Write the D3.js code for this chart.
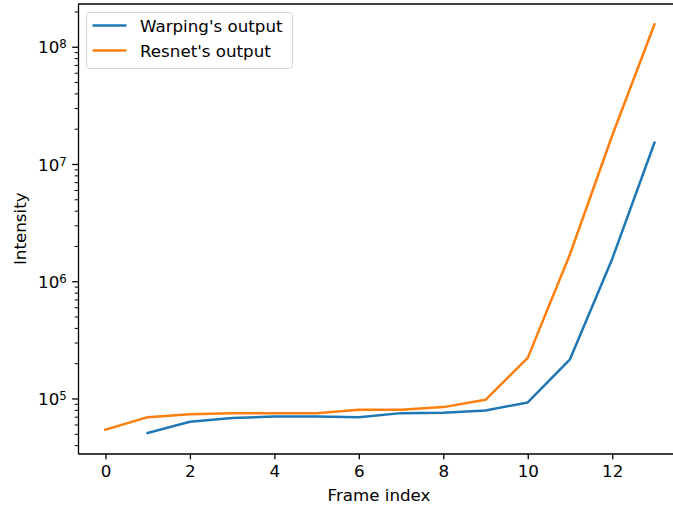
<!DOCTYPE html>
<meta charset="utf-8">
<title>Intensity per frame</title>
<head>
    <script src="https://cdn.jsdelivr.net/npm/d3@7"></script>
</head>
<body style="margin: 0px">
<script>

    // values (log y axis)
    var frames = [0, 1, 2, 3, 4, 5, 6, 7, 8, 9, 10, 11, 12, 13];
    var warping = [null, 50700, 63400, 68100, 70300, 70300, 69300, 75000, 75500, 79100, 92500, 216000, 1550000, 15200000];
    var resnet = [54200, 69300, 73200, 75000, 75000, 75000, 80200, 80200, 84400, 97500, 222000, 1700000, 17500000, 155000000];
    var seriesNames = ["Warping's output", "Resnet's output"];
    var seriesColors = ["#1f77b4", "#ff7f0e"];
    var xTicks = [0, 2, 4, 6, 8, 10, 12];
    var yDecades = [5, 6, 7, 8];

    var width = 673,
            height = 511,
            plotLeft = 78, plotTop = 4, plotBottom = 453.5,
            pxPerFrame = 42.23;

    var fontFamily = "'DejaVu Sans', sans-serif",
            fontSize = "16.7px";

    var svg = d3.select("body").append("svg")
            .attr("width", width)
            .attr("height", height)
            .style("display", "block")
            .style("font-family", fontFamily);

    // matplotlib style 5% margins, x on linear, y in log space
    var xMin = d3.min(frames), xMax = d3.max(frames),
            xPad = (xMax - xMin) * 0.05;
    var x = d3.scaleLinear()
            .domain([xMin - xPad, xMax + xPad])
            .range([plotLeft, plotLeft + (xMax - xMin + 2 * xPad) * pxPerFrame]);

    var allValues = warping.concat(resnet).filter(function (d) { return d != null; });
    var lMin = Math.log10(d3.min(allValues)), lMax = Math.log10(d3.max(allValues)),
            lPad = (lMax - lMin) * 0.05;
    var y = d3.scaleLog()
            .domain([Math.pow(10, lMin - lPad), Math.pow(10, lMax + lPad)])
            .range([plotBottom, plotTop]);

    var minorTicks = [];
    for (var e = 4; e <= 8; e++) {
        for (var m = 2; m <= 9; m++) {
            var v = m * Math.pow(10, e);
            if (v >= y.domain()[0] && v <= y.domain()[1]) minorTicks.push(v);
        }
    }

    // lines
    var series = [warping, resnet];
    var line = d3.line()
            .defined(function (d) { return d[1] != null; })
            .x(function (d) { return x(d[0]); })
            .y(function (d) { return y(d[1]); });

    svg.append("g").selectAll("path")
            .data(series)
            .enter().append("path")
            .attr("fill", "none")
            .attr("stroke", function (d, i) { return seriesColors[i]; })
            .attr("stroke-width", 2.5)
            .attr("stroke-linejoin", "round")
            .attr("stroke-linecap", "square")
            .attr("d", function (d) {
                return line(d.map(function (v, i) { return [frames[i], v]; }));
            });

    // x axis
    var gx = svg.append("g")
            .attr("transform", "translate(0," + plotBottom + ")")
            .call(d3.axisBottom(x).tickValues(xTicks).tickSize(5.8).tickPadding(5.8).tickSizeOuter(0));
    gx.selectAll("text").style("font-size", fontSize).style("font-family", fontFamily).attr("fill", "#000");

    // y axis: minor ticks, then decades with superscript labels
    var gMinor = svg.append("g")
            .attr("transform", "translate(" + plotLeft + ",0)")
            .call(d3.axisLeft(y).tickValues(minorTicks).tickSize(3.3).tickFormat("").tickSizeOuter(0));
    gMinor.select(".domain").remove();

    var gy = svg.append("g")
            .attr("transform", "translate(" + plotLeft + ",0)")
            .call(d3.axisLeft(y).tickValues(yDecades.map(function (d) { return Math.pow(10, d); }))
                    .tickSize(5.8).tickFormat("").tickSizeOuter(0));

    gy.selectAll(".tick").data(yDecades).append("text")
            .attr("x", -11.3)
            .attr("dy", "0.36em")
            .attr("text-anchor", "end")
            .attr("fill", "#000")
            .style("font-size", fontSize)
            .style("font-family", fontFamily)
            .each(function (d) {
                var t = d3.select(this);
                t.append("tspan").text("10");
                t.append("tspan").attr("dy", "-0.42em").style("font-size", "11.7px").text(d);
            });

    svg.selectAll(".domain, .tick line").attr("stroke", "#000").attr("stroke-width", 1.3);
    gMinor.selectAll("line").attr("stroke-width", 1.0);

    // top and right spines (right one falls outside the picture)
    svg.append("line")
            .attr("x1", plotLeft).attr("x2", x.range()[1])
            .attr("y1", plotTop).attr("y2", plotTop)
            .attr("stroke", "#000").attr("stroke-width", 1.3);
    svg.append("line")
            .attr("x1", x.range()[1]).attr("x2", x.range()[1])
            .attr("y1", plotTop).attr("y2", plotBottom)
            .attr("stroke", "#000").attr("stroke-width", 1.3);

    // axis labels
    svg.append("text")
            .attr("x", 379)
            .attr("y", 501)
            .attr("text-anchor", "middle")
            .style("font-size", fontSize)
            .text("Frame index");

    svg.append("text")
            .attr("transform", "translate(26," + ((plotTop + plotBottom) / 2) + ") rotate(-90)")
            .attr("text-anchor", "middle")
            .style("font-size", fontSize)
            .text("Intensity");

    // legend
    var legend = svg.append("g").attr("transform", "translate(86.5,12.5)");
    legend.append("rect")
            .attr("width", 206).attr("height", 56)
            .attr("rx", 3)
            .attr("fill", "#fff").attr("fill-opacity", 0.8)
            .attr("stroke", "#d4d4d4");
    var item = legend.selectAll(".item")
            .data(seriesNames)
            .enter().append("g")
            .attr("transform", function (d, i) { return "translate(0," + (13 + i * 25) + ")"; });
    item.append("line")
            .attr("x1", 6).attr("x2", 40)
            .attr("stroke", function (d, i) { return seriesColors[i]; })
            .attr("stroke-width", 2.5);
    item.append("text")
            .attr("x", 53.5)
            .attr("dy", "0.36em")
            .style("font-size", fontSize)
            .text(function (d) { return d; });

</script>
